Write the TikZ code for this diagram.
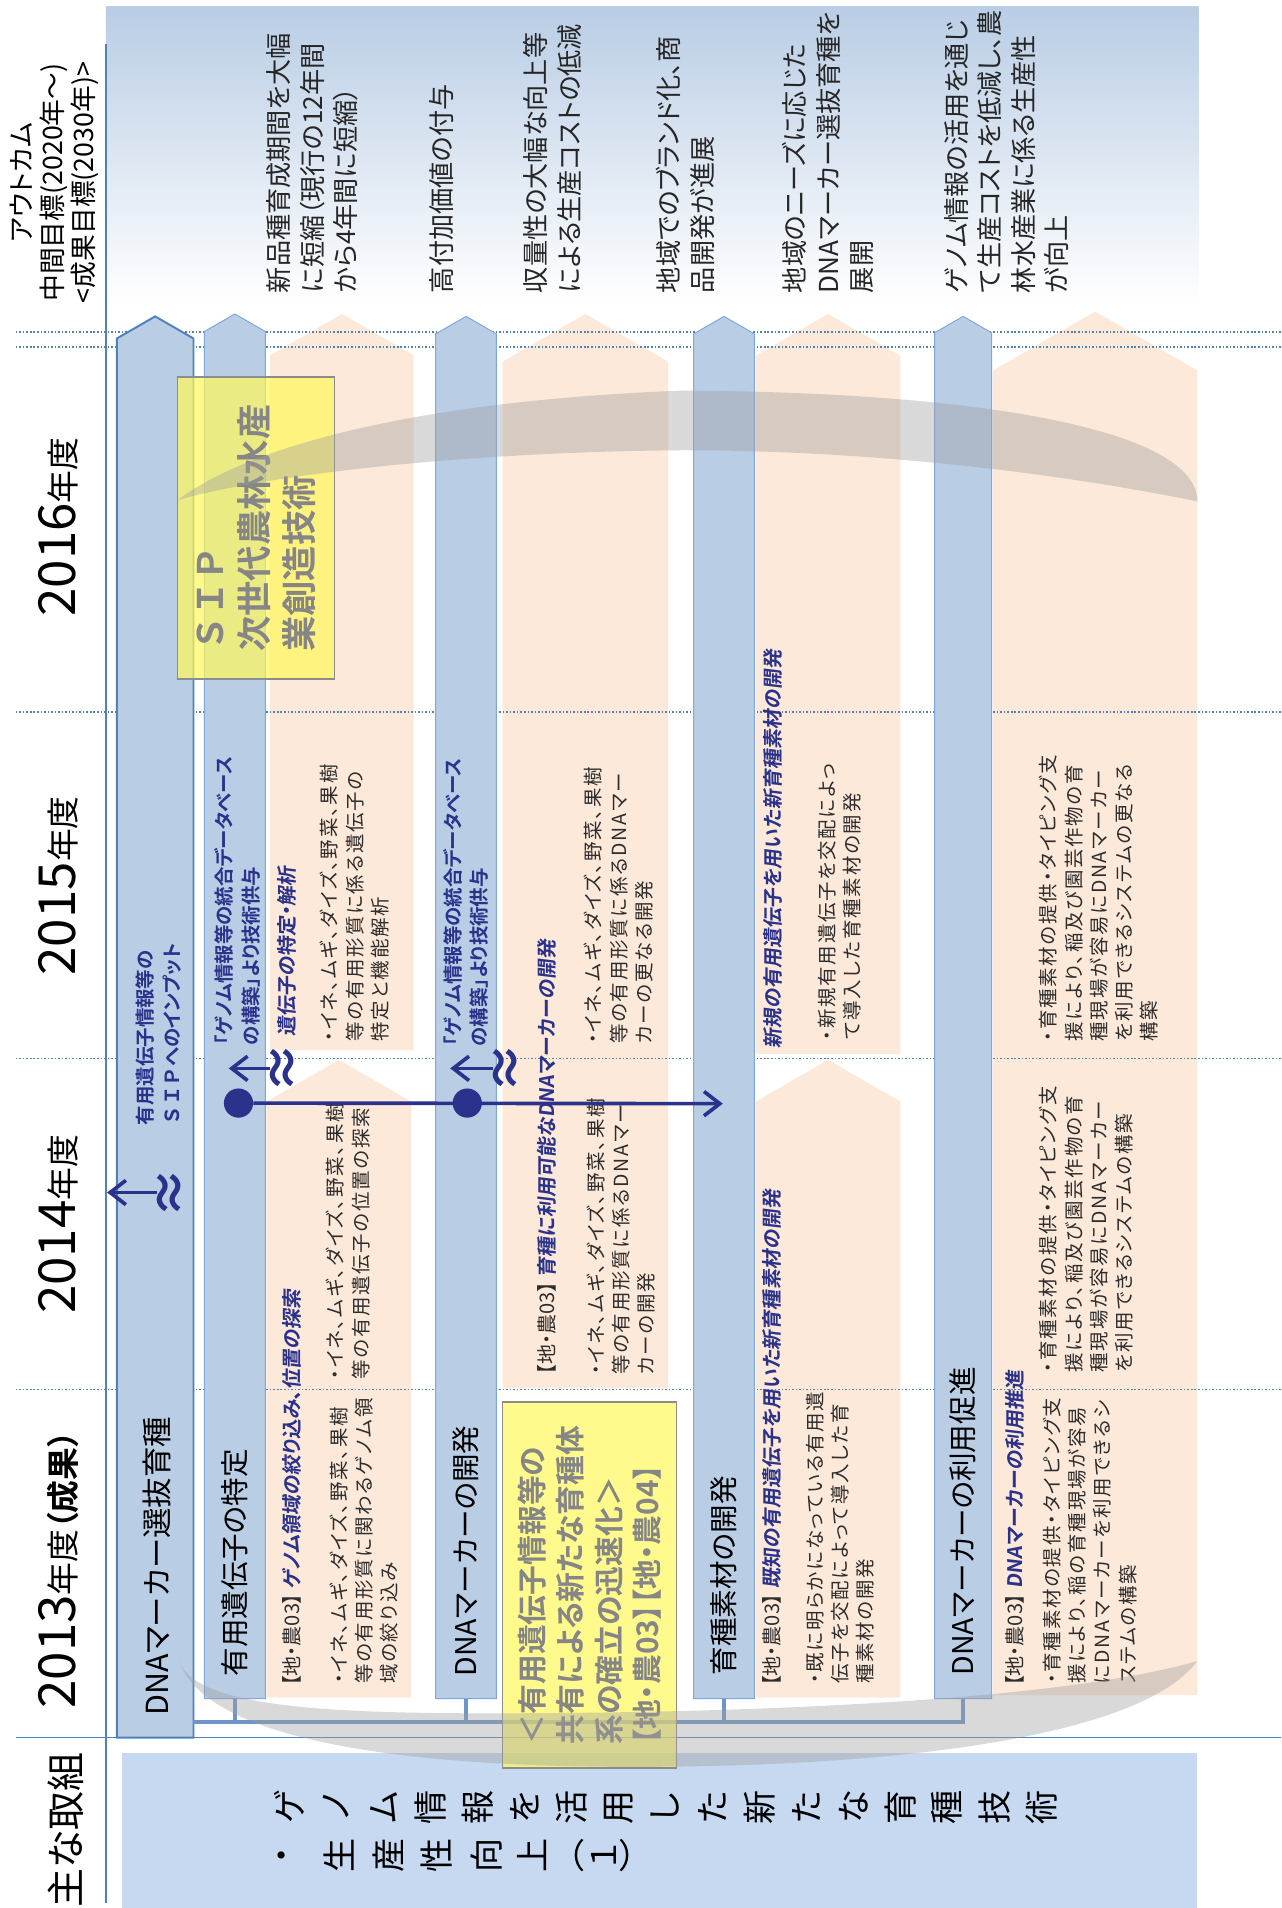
\documentclass[tikz,border=0pt]{standalone}
\usepackage{fontspec}
\setmainfont{Noto Sans CJK JP}[RawFeature=+palt]
\newfontfamily\jpbf{Noto Sans CJK JP Bold}[RawFeature=+palt]
\newfontfamily\jpbfw{Noto Sans CJK JP Bold}
\newfontfamily\descf{Noto Sans CJK JP}[RawFeature=+palt, LetterSpace=9]
\newfontfamily\slbf{Noto Sans CJK JP Bold}[FakeSlant=0.12,RawFeature=+palt]
\usetikzlibrary{arrows.meta, positioning}
\definecolor{barblue}{RGB}{185,205,229}
\definecolor{barline}{RGB}{126,166,224}
\definecolor{linblue}{RGB}{79,129,189}
\definecolor{busblue}{RGB}{111,148,200}
\definecolor{peach}{RGB}{253,233,217}
\definecolor{navy}{RGB}{43,50,140}
\definecolor{boxblue}{RGB}{198,217,240}
\definecolor{yfill}{RGB}{255,248,90}
\definecolor{ytext}{RGB}{134,134,134}
\definecolor{txtgray}{RGB}{45,45,45}
\newcommand{\fs}[2]{\fontsize{#1}{#2}\selectfont}
\newcommand{\tagno}{{\normalfont\color{txtgray}【地・農03】}\hspace{4pt}}
% bar with a pointed head: style, left, right, bottom, tip
\newcommand{\colarrow}[5]{%
  \pgfmathsetmacro{\cmid}{(#2+#3)/2}%
  \pgfmathsetmacro{\cshd}{#5+0.577*(#3-#2)/2}%
  \path[#1] (#2,#4) -- (#2,\cshd) -- (\cmid,#5) -- (#3,\cshd) -- (#3,#4) -- cycle;}

\begin{document}
\begin{tikzpicture}[
  x=1pt, y=-1pt,
  bluebar/.style={fill=barblue, draw=barline, line width=0.8pt},
  mainbar/.style={fill=barblue, draw=linblue, line width=1.6pt},
  peachbar/.style={fill=peach},
  dotline/.style={linblue, line width=1.3pt, dash pattern=on 1.3pt off 1.6pt},
  solidline/.style={linblue, line width=1.3pt},
  bus/.style={busblue, line width=3.3pt},
  rot/.style={rotate=90, inner sep=0pt},
  barlbl/.style={rot, anchor=west, text=black},
  yearlbl/.style={rot, anchor=base, text=black},
  outc/.style={rot, anchor=north west, align=left, text=black!85, font=\fs{21.5}{27.5}},
  desc/.style={rot, anchor=north west, align=left, text=txtgray, font=\descf\fs{16}{20.7}},
  ttl/.style={rot, anchor=north west, text=txtgray, font=\fs{16.5}{20.7}},
  navytxt/.style={rot, anchor=north west, align=left, text=navy, font=\jpbf\fs{16}{22}},
  ybox/.style={rot, draw=gray!90, line width=1.3pt, fill=yfill, fill opacity=0.7,
               text opacity=1, text=ytext, align=left},
  dot/.style={circle, fill=navy, minimum size=24pt, inner sep=0pt},
  wave/.style={rot, text=navy, font=\jpbf\fs{42}{42}},
  navyarr/.style={navy, line width=3pt, -{Straight Barb[length=13pt, width=20pt]}},
  band/.style={fill=gray!75, fill opacity=0.4},
  glyph/.style={inner sep=0pt, text=black, font=\fs{28}{28}},
]
\useasboundingbox (0,0) rectangle (1053,1568);

% outcome band and bottom box
\shade[top color=barblue, middle color=barblue!70!white, bottom color=white] (87,5) rectangle (985,250);
\fill[boxblue] (100,1441) rectangle (984,1568);

% peach bars
\colarrow{peachbar}{219}{338}{1395}{871}
\colarrow{peachbar}{222}{340}{863}{258}
\colarrow{peachbar}{413}{549}{1141}{258}
\colarrow{peachbar}{621}{740}{1395}{871}
\colarrow{peachbar}{621}{740}{866}{258}
\colarrow{peachbar}{816}{984}{1393}{256}

% grid
\draw[solidline] (87,36) -- (87,1564);
\draw[solidline] (13,1428) -- (1053,1428);
\foreach \yy in {273,285,585,870,1142}
  \draw[dotline] (13,\yy) -- (1053,\yy);

% blue bars
\colarrow{mainbar}{96}{159}{1428}{260}
\colarrow{bluebar}{168}{218}{1396}{258}
\colarrow{bluebar}{358}{408}{1396}{260}
\colarrow{bluebar}{570}{620}{1396}{260}
\colarrow{bluebar}{768}{815}{1396}{260}

% bus under the bars
\coordinate (f2) at (193,1396);
\coordinate (f4) at (383,1396);
\coordinate (f6) at (595,1396);
\coordinate (f8) at (791.5,1396);
\coordinate (busL) at (159,1415);
\coordinate (busR) at (791.5,1415);
\draw[bus] (busL) -- (busR) -- (f8);
\foreach \f in {f2,f4,f6}
  \draw[bus] (\f) -- (\f |- busL);

% left column
\node[rot, align=center, font=\fs{22}{25.5}] (outh) at (45,150) {アウトカム\\中間目標(2020年～)\\<成果目標(2030年)>};
\node[yearlbl] (y16) at (62,433) {{\fs{42}{42}2016}{\fs{27}{27}年度}};
\node[yearlbl] (y15) at (62,728) {{\fs{42}{42}2015}{\fs{27}{27}年度}};
\node[yearlbl] (y14) at (62,1006) {{\fs{42}{42}2014}{\fs{27}{27}年度}};
\node[yearlbl] (y13) at (62,1290) {{\fs{42}{42}2013}{\fs{27}{27}年度\jpbf（成果）}};
\node[yearlbl, font=\fs{32}{32}] (tori) at (66,1504) {主な取組};

% outcomes
\node[outc] (o1) at (219,241) {新品種育成期間を大幅\\に短縮（現行の12年間\\から4年間に短縮）};
\node[outc] (o2) at (353,241) {高付加価値の付与};
\node[outc] (o3) at (430,241) {収量性の大幅な向上等\\による生産コストの低減};
\node[outc] (o4) at (539,241) {地域でのブランド化、商\\品開発が進展};
\node[outc] (o5) at (643,241) {地域のニーズに応じた\\DNAマーカー選抜育種を\\展開};
\node[outc] (o6) at (776,241) {ゲノム情報の活用を通じ\\て生産コストを低減し、農\\林水産業に係る生産性\\が向上};

% bar labels
\node[barlbl, font=\fs{25}{25}] (b1) at (129,1410) {DNAマーカー選抜育種};
\node[barlbl, font=\fs{23.5}{23.5}] (b2) at (193,1378) {有用遺伝子の特定};
\node[barlbl, font=\fs{23.5}{23.5}] (b4) at (383,1378) {DNAマーカーの開発};
\node[barlbl, font=\fs{23.5}{23.5}] (b6) at (595,1377) {育種素材の開発};
\node[barlbl, font=\fs{23.5}{23.5}] (b8) at (791.5,1377) {DNAマーカーの利用促進};

\node[navytxt] (n1) at (111.5,925) {有用遺伝子情報等の\\{\jpbfw ＳＩＰ}へのインプット};
\node[navytxt] (n2) at (176,859) {「ゲノム情報等の統合データベース\\の構築」より技術供与};
\node[navytxt] (n4) at (364,860) {「ゲノム情報等の統合データベース\\の構築」より技術供与};

% gene identification
\node[ttl] (t3a) at (232,1386) {\tagno{\slbf\color{navy}ゲノム領域の絞り込み、位置の探索}};
\node[desc] (d3a) at (271,1384) {・イネ、ムギ、ダイズ、野菜、果樹\\等の有用形質に関わるゲノム領\\域の絞り込み};
\node[desc] (d3b) at (268,1134) {・イネ、ムギ、ダイズ、野菜、果樹\\等の有用遺伝子の位置の探索};
\node[ttl] (t3c) at (228,852) {{\slbf\color{navy}遺伝子の特定・解析}};
\node[desc] (d3c) at (263,856) {・イネ、ムギ、ダイズ、野菜、果樹\\等の有用形質に係る遺伝子の\\特定と機能解析};

% marker development
\node[ttl] (t5b) at (441,1130) {\tagno{\slbf\color{navy}育種に利用可能なDNAマーカーの開発}};
\node[desc] (d5b) at (482,1130) {・イネ、ムギ、ダイズ、野菜、果樹\\等の有用形質に係るDNAマー\\カーの開発};
\node[desc] (d5c) at (480,858) {・イネ、ムギ、ダイズ、野菜、果樹\\等の有用形質に係るDNAマー\\カーの更なる開発};

% breeding material
\node[ttl] (t7a) at (626,1386) {\tagno{\slbf\color{navy}既知の有用遺伝子を用いた新育種素材の開発}};
\node[desc] (d7a) at (662,1384) {・既に明らかになっている有用遺\\伝子を交配によって導入した育\\種素材の開発};
\node[ttl] (t7c) at (627,862) {{\slbf\color{navy}新規の有用遺伝子を用いた新育種素材の開発}};
\node[desc] (d7c) at (672,855) {・新規有用遺伝子を交配によっ\\て導入した育種素材の開発};

% marker use
\node[ttl] (t9a) at (826,1386) {\tagno{\slbf\color{navy}DNAマーカーの利用推進}};
\node[desc] (d9a) at (857,1384) {・育種素材の提供・タイピング支\\援により、稲の育種現場が容易\\にDNAマーカーを利用できるシ\\ステムの構築};
\node[desc] (d9b) at (854,1128) {・育種素材の提供・タイピング支\\援により、稲及び園芸作物の育\\種現場が容易にDNAマーカー\\を利用できるシステムの構築};
\node[desc] (d9c) at (854,856) {・育種素材の提供・タイピング支\\援により、稲及び園芸作物の育\\種現場が容易にDNAマーカー\\を利用できるシステムの更なる\\構築};

% yellow boxes
\node[ybox, font=\jpbfw\fs{29}{36.5}, minimum width=248pt, minimum height=129pt] (sip) at (210.5,434) {ＳＩＰ\\次世代農林水産\\業創造技術};
\node[ybox, font=\jpbf\fs{24.5}{31.7}, minimum width=301pt, minimum height=143pt] (ybox2) at (484.5,1302.5) {＜有用遺伝子情報等の\\共有による新たな育種体\\系の確立の迅速化＞\\【地・農03】【地・農04】};

% navy arrows
\node[dot] (p1) at (196,906.5) {};
\node[dot] (p2) at (384,906.5) {};
\coordinate (h1) at (594,907);
\draw[navyarr] (p1) -- (h1);
\node[wave] (w1) at (142,980) {≈};
\node[wave] (w2) at (235,878) {≈};
\node[wave] (w4) at (418,878) {≈};
\coordinate (a1) at (88,980);
\coordinate (a2) at (188,878);
\coordinate (a4) at (370,878);
\draw[navyarr] (w1) -- (a1);
\draw[navyarr] (w2) -- (a2);
\draw[navyarr] (w4) -- (a4);

% bottom box text
\foreach \ch [count=\i from 0] in {ゲ,ノ,ム,情,報,を,活,用,し,た,新,た,な,育,種,技,術}
  \node[glyph, rotate=90] (g\i) at (238+38.6*\i,1485) {\ch};
\foreach \ch/\px/\rt [count=\i] in {・/235/90,生/279/90,産/319/90,性/359/90,向/400/90,上/437/90,（/473/0,１/496/90,）/516/0}
  \node[glyph, rotate=\rt] (k\i) at (\px,1525) {\ch};

% grey sweeps
\fill[band] (146,411) .. controls (200,370) and (330,330) .. (560,321)
  .. controls (800,322) and (984,352) .. (984,412)
  .. controls (850,385) and (700,370) .. (560,370)
  .. controls (350,372) and (200,395) .. (146,411) -- cycle;
\fill[band] (147,1365) .. controls (160,1400) and (250,1408) .. (400,1408)
  .. controls (650,1408) and (880,1395) .. (984,1365)
  .. controls (940,1425) and (750,1452) .. (520,1452)
  .. controls (330,1452) and (170,1430) .. (147,1365) -- cycle;
\end{tikzpicture}
\end{document}
